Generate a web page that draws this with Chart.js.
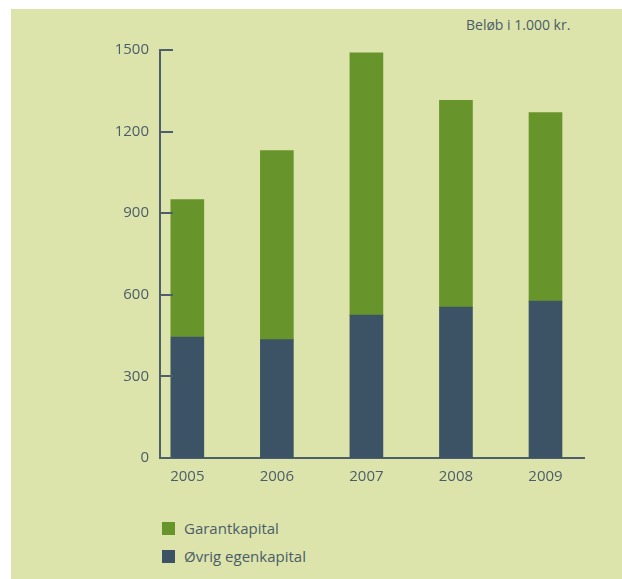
<!DOCTYPE html>
<html>
<head>
<meta charset="utf-8">
<script src="https://cdn.jsdelivr.net/npm/chart.js@4"></script>
<style>
  body { margin: 0; background: #fff; width: 622px; height: 579px; overflow: hidden; font-family: "Open Sans", sans-serif; }
  #panel { position: absolute; left: 11px; top: 9px; width: 611px; height: 570px; background: #dce4ab; }
  #wrap { position: absolute; left: 0; top: 0; width: 622px; height: 500px; }
  #unit { position: absolute; left: 466px; top: 15px; font-size: 14px; color: #4b5d69; }
  .leg { position: absolute; left: 162px; font-size: 15px; color: #4b5d69; }
  .leg span { display: inline-block; width: 13px; height: 13px; margin-right: 9px; vertical-align: -1px; }
</style>
</head>
<body>
<div id="panel"></div>
<div id="unit">Beløb i 1.000 kr.</div>
<div id="wrap"><canvas id="c"></canvas></div>
<div class="leg" style="top:518px"><span style="background:#67952c"></span>Garantkapital</div>
<div class="leg" style="top:546px"><span style="background:#3c5366"></span>Øvrig egenkapital</div>
<script>
    // data
    const years = [2005, 2006, 2007, 2008, 2009];
    const ovrig = [445, 435, 525, 555, 577];
    const garant = [505, 695, 965, 760, 693];
    const yTicks = [0, 300, 600, 900, 1200, 1500];

    const greenColor = '#67952c';
    const darkColor = '#3c5366';
    const textColor = '#4b5d69';
    const axisColor = '#4d5f6b';

    // inward tick marks on the y axis
    const innerTicks = {
        id: 'innerTicks',
        afterDraw(chart) {
            const ctx = chart.ctx;
            const y = chart.scales.y;
            const left = chart.chartArea.left;
            ctx.save();
            ctx.strokeStyle = axisColor;
            ctx.lineWidth = 2;
            yTicks.forEach(v => {
                const py = Math.round(y.getPixelForValue(v));
                ctx.beginPath();
                ctx.moveTo(left, py);
                ctx.lineTo(left + 13, py);
                ctx.stroke();
            });
            ctx.restore();
        }
    };

    new Chart(document.getElementById('c'), {
        type: 'bar',
        data: {
            datasets: [{
                label: 'Øvrig egenkapital',
                data: years.map((x, i) => ({ x: x, y: ovrig[i] })),
                backgroundColor: darkColor,
                barThickness: 33
            }, {
                label: 'Garantkapital',
                data: years.map((x, i) => ({ x: x, y: garant[i] })),
                backgroundColor: greenColor,
                barThickness: 33
            }]
        },
        options: {
            responsive: true,
            maintainAspectRatio: false,
            animation: false,
            layout: { padding: { left: 0, right: 38, top: 50, bottom: 0 } },
            plugins: {
                legend: { display: false },
                tooltip: { enabled: false }
            },
            scales: {
                x: {
                    type: 'linear',
                    stacked: true,
                    offset: false,
                    min: 2004.695,
                    max: 2009.43,
                    afterFit(s) { s.height = 42; },
                    afterBuildTicks(s) { s.ticks = years.map(v => ({ value: v })); },
                    grid: { display: false, drawTicks: false },
                    border: { display: true, color: axisColor, width: 2 },
                    ticks: {
                        padding: 10,
                        color: textColor,
                        font: { family: 'Open Sans', size: 15 },
                        callback: v => String(v)
                    }
                },
                y: {
                    stacked: true,
                    min: 0,
                    max: 1500,
                    afterFit(s) { s.width = 160; },
                    afterBuildTicks(s) { s.ticks = yTicks.map(v => ({ value: v })); },
                    grid: { display: false, drawTicks: false },
                    border: { display: true, color: axisColor, width: 2 },
                    ticks: {
                        padding: 11,
                        color: textColor,
                        font: { family: 'Open Sans', size: 15 },
                        callback: v => String(v)
                    }
                }
            }
        },
        plugins: [innerTicks]
    });
</script>
</body>
</html>
